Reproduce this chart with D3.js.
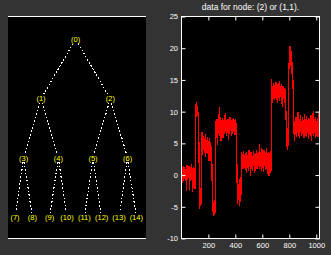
<!DOCTYPE html>
<html><head><meta charset="utf-8">
<script src="https://cdn.jsdelivr.net/npm/d3@7"></script>
<style>
html,body{margin:0;padding:0;background:#333333;}
svg{display:block;}
text{font-family:"Liberation Sans",Arial,sans-serif;}
</style></head>
<body>
<svg id="c" width="331" height="255"></svg>
<script>
// ---------- data ----------
const treeDepth = 3;
const nodeLabels = ["(0)","(1)","(2)","(3)","(4)","(5)","(6)","(7)","(8)","(9)","(10)","(11)","(12)","(13)","(14)"];
const chartTitle = "data for node: (2) or (1,1).";
const signalStart = 1, signalStep = 4, signalLength = 1024;
const signal = [
 0.5,-1.2,1.2,-0.9,1.5,-0.6,1.3,-1.0,1.0,-2.5,1.6,-0.8,1.2,-0.5,1.4,-2.4,0.9,-0.9,1.7,-0.7,1.1,-2.6,1.3,-0.8,0.9,-2.2,
 11.2,9.1,11.5,9.4,10.9,8.8,7.6,
 -1.2,-5.3,-2.0,-4.6,-0.8,
 6.8,3.2,6.2,4.0,5.9,3.5,6.5,2.8,5.6,4.1,6.0,3.3,5.4,2.2,5.8,3.6,5.2,1.9,4.6,
 -3.0,-5.8,-4.2,-6.5,-4.0,-6.0,-4.5,
 8.5,6.3,8.8,4.8,9.0,6.5,10.8,6.2,9.2,5.3,8.6,6.6,9.0,5.8,8.7,6.4,9.4,6.8,9.8,6.1,8.5,6.7,8.9,5.6,8.4,6.5,9.1,6.9,8.6,6.2,8.9,6.4,9.0,6.8,8.7,6.3,8.8,6.5,8.2,
 -1.0,-4.5,-1.8,-3.9,-0.7,-4.8,-2.2,-4.0,
 3.6,1.2,3.3,0.9,3.8,1.5,3.1,0.8,3.5,0.4,3.7,1.1,3.2,0.6,3.9,1.3,3.4,-0.1,3.6,1.0,3.0,0.7,3.8,1.4,3.3,0.3,3.5,1.2,4.0,0.9,3.4,1.5,3.7,1.0,4.9,1.3,3.6,0.6,4.2,1.1,3.3,0.5,3.9,1.4,3.2,0.8,4.3,1.0,3.5,0.2,3.7,-0.2,3.4,0.4,3.8,0.6,
 15.2,11.3,14.0,12.0,14.5,11.8,14.2,12.2,14.6,11.9,13.9,11.3,14.3,12.1,14.9,11.7,14.1,12.3,14.4,11.6,10.7,14.0,12.0,13.8,11.4,13.6,12.1,
 8.2,4.5,7.4,4.0,6.5,
 16.5,19.0,20.4,17.2,19.6,16.0,17.8,13.5,15.0,
 9.0,5.4,8.6,6.3,9.2,6.0,8.4,6.6,10.0,6.2,8.8,5.9,9.4,6.8,8.5,6.1,9.1,6.5,8.7,5.8,9.6,6.4,8.9,6.0,9.3,6.7,8.6,5.7,9.0,6.3,8.8,6.1,9.4,5.3,8.7,6.5,10.1,6.2,8.9,6.6,9.2,5.9,8.5,6.4,9.0,6.0,9.8,7.2
];
const xTicks = [200,400,600,800,1000];
const xTickLabels = ["200","400","600","800","1000"];
const yTicks = [-10,-5,0,5,10,15,20,25];
const yTickLabels = ["-10","-5","0","5","10","15","20","25"];
const yDomain = [-10,25];

// ---------- drawing ----------
const svg = d3.select("#c");

// left tree panel
const tree = svg.append("g");
const tL = 8, tR = 146, tT = 16.5, tB = 238.5;
tree.append("rect").attr("x",tL).attr("y",tT).attr("width",tR-tL).attr("height",tB-tT).attr("fill","#000");
tree.append("line").attr("x1",tL).attr("x2",tR).attr("y1",tT).attr("y2",tT).attr("stroke","#fff").attr("stroke-width",1);
tree.append("line").attr("x1",tL).attr("x2",tR).attr("y1",tB).attr("y2",tB).attr("stroke","#fff").attr("stroke-width",1);

const nLeaves = Math.pow(2,treeDepth);
const leafX = d3.scaleLinear().domain([0,nLeaves-1]).range([15,136.3]);
const depthY = d3.scaleLinear().domain([0,treeDepth]).range([39.3,217.3]);
const nodes = nodeLabels.map((lab,n)=>{
  const d = Math.floor(Math.log2(n+1));
  const p = n - (Math.pow(2,d)-1);
  const span = Math.pow(2,treeDepth-d);
  return {n, lab, d, x: leafX((p+0.5)*span-0.5), y: depthY(d)};
});
const links = nodes.filter(o=>o.n>0).map(c=>({s:nodes[Math.floor((c.n-1)/2)], t:c}));
tree.selectAll("line.lk").data(links).enter().append("line").attr("class","lk")
  .each(function(l){
    const dy = l.t.y - l.s.y, dx = l.t.x - l.s.x;
    const a = 4.2/dy, b = 1 - 4.8/dy;
    d3.select(this).attr("x1",l.s.x+dx*a).attr("y1",l.s.y+dy*a)
      .attr("x2",l.s.x+dx*b).attr("y2",l.s.y+dy*b);
  })
  .attr("stroke","#fff").attr("stroke-width",1.1).attr("stroke-dasharray","1.6,2")
  .attr("shape-rendering","crispEdges");
tree.selectAll("text.nd").data(nodes).enter().append("text").attr("class","nd")
  .attr("x",d=>d.x).attr("y",d=>d.y).attr("dy","0.35em").attr("text-anchor","middle")
  .attr("font-size","7.5px").attr("fill","#ffff00").text(d=>d.lab);

// right signal panel
const aL = 181.5, aR = 319.5, aT = 16.5, aB = 238.5;
const x = d3.scaleLinear().domain([signalStart, signalLength]).range([aL,aR]);
const y = d3.scaleLinear().domain(yDomain).range([aB,aT]);
const ax = svg.append("g");
ax.append("rect").attr("x",aL).attr("y",aT).attr("width",aR-aL).attr("height",aB-aT).attr("fill","#000");
ax.append("defs").append("clipPath").attr("id","clp").append("rect")
  .attr("x",aL).attr("y",aT).attr("width",aR-aL).attr("height",aB-aT);

const line = d3.line().x((v,i)=>x(signalStart+i*signalStep)).y(v=>y(v));
ax.append("path").datum(signal).attr("d",line).attr("fill","none")
  .attr("stroke","#ff0000").attr("stroke-width",1.2).attr("shape-rendering","crispEdges")
  .attr("clip-path","url(#clp)");

function styleAxis(g){
  g.select(".domain").remove();
  g.selectAll(".tick line").attr("stroke","#fff");
  g.selectAll(".tick text").attr("fill","#fff").attr("font-size","7.5px").attr("font-family","Liberation Sans, Arial, sans-serif");
}
ax.append("g").attr("transform",`translate(${aL},0)`)
  .call(d3.axisLeft(y).tickValues(yTicks).tickFormat((d,i)=>yTickLabels[i]).tickSizeInner(-4).tickSizeOuter(0).tickPadding(3.5))
  .call(styleAxis);
ax.append("g").attr("transform",`translate(${aR},0)`)
  .call(d3.axisRight(y).tickValues(yTicks).tickFormat("").tickSizeInner(-4).tickSizeOuter(0))
  .call(styleAxis);
ax.append("g").attr("transform",`translate(0,${aB})`)
  .call(d3.axisBottom(x).tickValues(xTicks).tickFormat((d,i)=>xTickLabels[i]).tickSizeInner(-4).tickSizeOuter(0).tickPadding(4.5))
  .call(styleAxis);
ax.append("g").attr("transform",`translate(0,${aT})`)
  .call(d3.axisTop(x).tickValues(xTicks).tickFormat("").tickSizeInner(-4).tickSizeOuter(0))
  .call(styleAxis);
ax.append("rect").attr("x",aL).attr("y",aT).attr("width",aR-aL).attr("height",aB-aT)
  .attr("fill","none").attr("stroke","#fff").attr("stroke-width",1);

svg.append("text").attr("x",(aL+aR)/2).attr("y",10).attr("text-anchor","middle")
  .attr("font-size","8.5px").attr("fill","#fff").text(chartTitle);
</script>
</body></html>
